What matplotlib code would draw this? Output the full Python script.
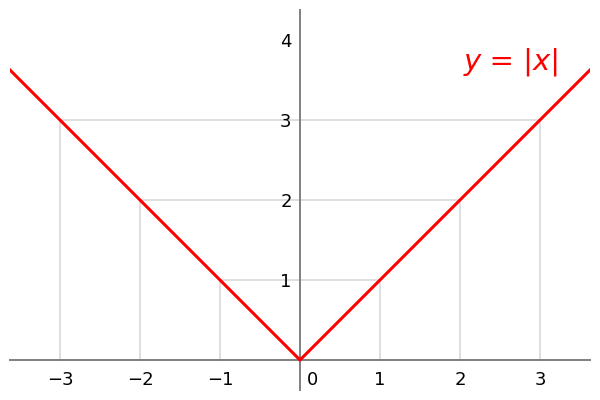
import matplotlib
matplotlib.use("Agg")
import matplotlib.pyplot as plt
import numpy as np

# data
x_ends = [-3.625, 0, 3.625]
y_vals = [abs(v) for v in x_ends]
grid_x = [-3, -2, -1, 1, 2, 3]
grid_y = [1, 2, 3]
xtick_vals = [-3, -2, -1, 1, 2, 3]
ytick_vals = [1, 2, 3, 4]

fig = plt.figure(figsize=(6, 4), dpi=100)
ax = fig.add_axes([10/600, 10/400, 580/600, 380/400])
ax.set_xlim(-3.625, 3.625)
ax.set_ylim(-0.375, 4.375)

# partial grid lines up to the curve
for gx in grid_x:
    ax.plot([gx, gx], [0, abs(gx)], color='#d9d9d9', lw=1.2, zorder=1)
for gy in grid_y:
    ax.plot([-gy, gy], [gy, gy], color='#d9d9d9', lw=1.2, zorder=1)

ax.plot(x_ends, y_vals, color='red', lw=2.2, zorder=3)

# axes through the origin
for s in ['top', 'right']:
    ax.spines[s].set_visible(False)
ax.spines['left'].set_position(('data', 0))
ax.spines['bottom'].set_position(('data', 0))
for s in ['left', 'bottom']:
    ax.spines[s].set_color('#808080')
    ax.spines[s].set_linewidth(1.4)

ax.set_xticks(xtick_vals)
ax.set_xticklabels([str(v).replace('-', '\u2212') for v in xtick_vals])
ax.set_yticks(ytick_vals)
ax.set_yticklabels([str(v) for v in ytick_vals])
ax.tick_params(axis='both', length=0, labelsize=13)
ax.tick_params(axis='x', pad=8)
ax.tick_params(axis='y', pad=6)
ax.annotate('0', xy=(0, 0), xytext=(5, -8), textcoords='offset points',
            ha='left', va='top', fontsize=13)

ax.text(3.255, 3.73, 'y = |x|', color='red', fontsize=21, style='italic',
        ha='right', va='center')

fig.savefig('out.png', dpi=100)
